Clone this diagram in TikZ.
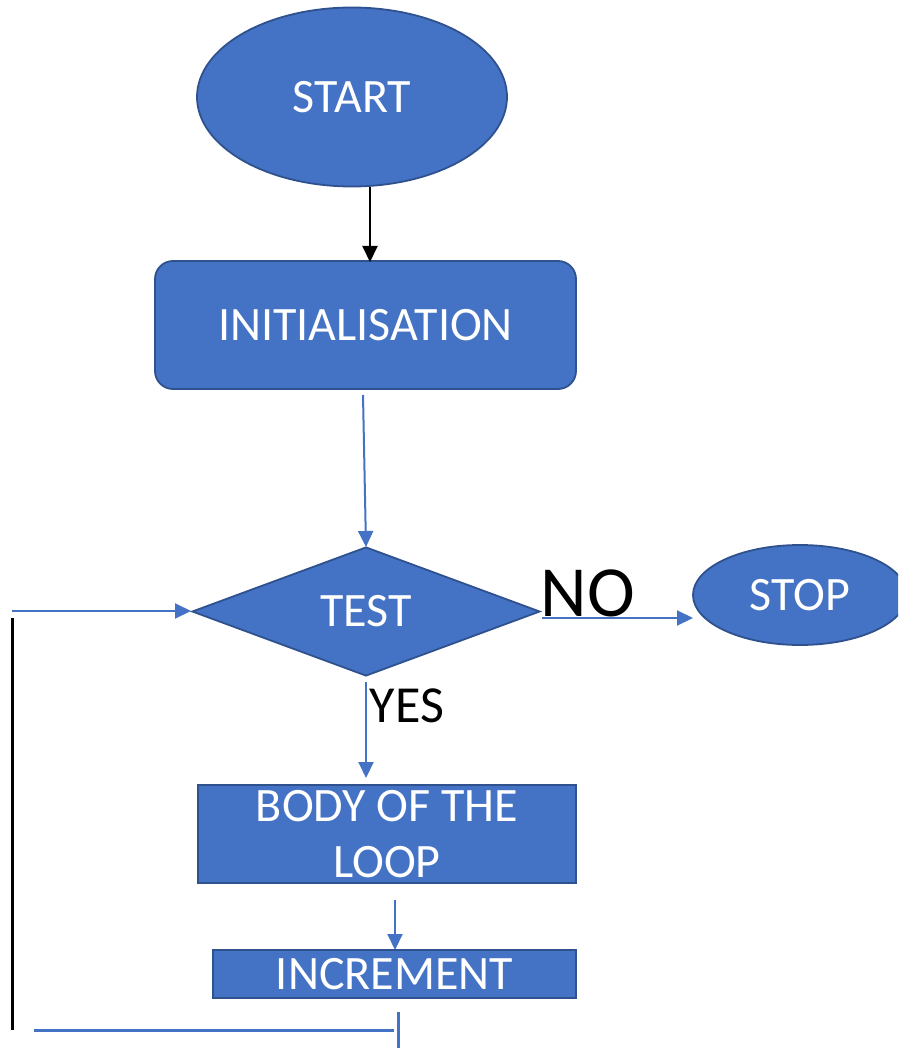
\documentclass[tikz,border=0pt]{standalone}
\usepackage{fontspec}
\setmainfont{Carlito}
\usetikzlibrary{shapes.geometric,arrows.meta}
\definecolor{fillblue}{HTML}{4472C4}
\definecolor{edgeblue}{HTML}{2F528F}
\tikzset{
  x=1pt, y=-1pt,
  shapebox/.style={fill=fillblue, draw=edgeblue, line width=1.8pt, text=white, inner sep=0pt,
    font=\fontsize{48}{56}\selectfont},
  bluearrow/.style={draw=fillblue, line width=2pt, -{Triangle[length=16pt,width=15pt]}},
  blackarrow/.style={draw=black, line width=2pt, -{Triangle[length=16pt,width=15pt]}},
  lbl/.style={text=black, inner sep=0pt},
}
\begin{document}
\begin{tikzpicture}
\useasboundingbox (0,0) rectangle (898,1048);
\clip (0,0) rectangle (898,1048);
% shapes
\node[shapebox, ellipse, minimum width=310pt, minimum height=179pt] (start) at (352,97) {\raisebox{-3pt}{START}};
\node[shapebox, rectangle, rounded corners=18pt, minimum width=421pt, minimum height=128pt] (init) at (365.5,325) {INITIALISATION};
\node[shapebox, diamond, minimum width=348pt, minimum height=129pt] (test) at (366,611.5) {TEST};
\node[shapebox, ellipse, minimum width=214pt, minimum height=100pt] (stop) at (800,595) {STOP};
\node[shapebox, rectangle, minimum width=378pt, minimum height=98pt, align=center] (body) at (387,834) {BODY OF THE\\LOOP};
\node[shapebox, rectangle, minimum width=363pt, minimum height=48pt] (inc) at (394.5,974) {INCREMENT};
% labels
\node[lbl, font=\fontsize{72}{72}\selectfont] (no) at (588,593) {NO};
\node[lbl, font=\fontsize{52}{52}\selectfont] (yes) at (407,706) {YES};
% connector coordinates
\coordinate (s1) at (370,187);
\coordinate (s2) at (370,262);
\coordinate (i1) at (363,395);
\coordinate (i2) at (366,547);
\coordinate (t1) at (542,618);
\coordinate (t2) at (693,618);
\coordinate (y1) at (366,682);
\coordinate (y2) at (366,778);
\coordinate (b1) at (395,900);
\coordinate (b2) at (395,950);
\coordinate (l1) at (12,611);
\coordinate (l2) at (191,611);
\coordinate (v1) at (12,618);
\coordinate (v2) at (12,1030);
\coordinate (h1) at (34,1030);
\coordinate (h2) at (394,1030);
\coordinate (k1) at (398,1012);
\coordinate (k2) at (398,1048);
% connectors
\draw[blackarrow] (s1) -- (s2);
\draw[bluearrow] (i1) -- (i2);
\draw[bluearrow] (t1) -- (t2);
\draw[bluearrow] (y1) -- (y2);
\draw[bluearrow] (b1) -- (b2);
\draw[bluearrow] (l1) -- (l2);
\draw[black, line width=3pt] (v1) -- (v2);
\draw[fillblue, line width=3pt] (h1) -- (h2);
\draw[fillblue, line width=3pt] (k1) -- (k2);
\end{tikzpicture}
\end{document}
